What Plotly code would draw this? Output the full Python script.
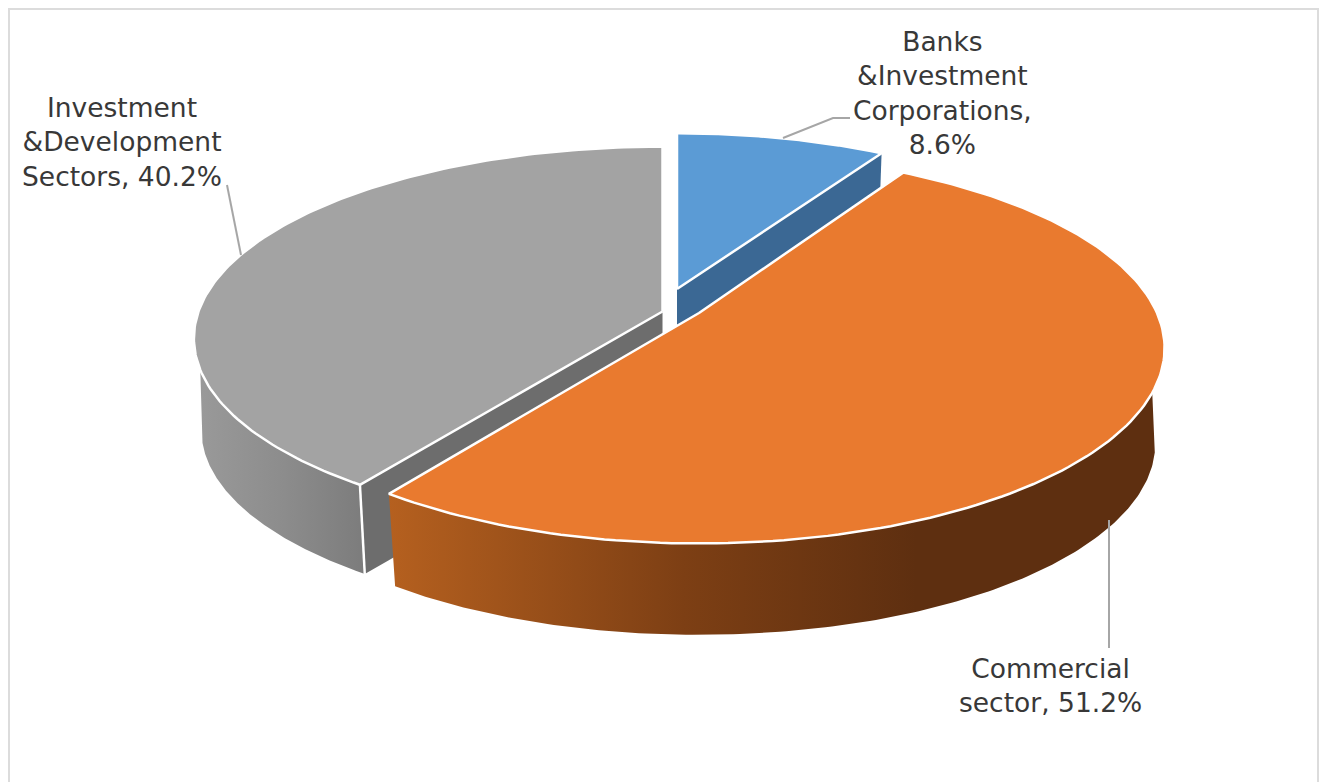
import numpy as np
import plotly.graph_objects as go

# Sector shares, clockwise from twelve o'clock
sectors = ["Banks &Investment Corporations", "Commercial sector", "Investment &Development Sectors"]
shares = [8.6, 51.2, 40.2]
label_lines = [
    "Banks<br>&Investment<br>Corporations,<br>{}%",
    "Commercial<br>sector, {}%",
    "Investment<br>&Development<br>Sectors, {}%",
]

top_colors = ["#5b9bd5", "#e97a2f", "#a3a3a3"]

# Projection of each exploded slice: apex, half-axes, perspective, rim drop and rim shrink
slice_geometry = [
    dict(cx=677, cy=289, a=442, b=176, k=0.13, drop=90, shrink=0.984),
    dict(cx=699, cy=313, a=458, b=189, k=0.18, drop=96, shrink=0.98),
    dict(cx=662.5, cy=311.5, a=464, b=188, k=0.14, drop=92, shrink=0.984),
]

edges = 360 * np.cumsum([0] + shares) / sum(shares)


def rim(g, deg, lower=False):
    """Screen position of the slice rim at a clockwise angle, on the top or bottom face."""
    t = np.radians(deg)
    w = 1 + g["k"] * np.cos(t)
    s = g["shrink"] if lower else 1.0
    cy = g["cy"] + (g["drop"] if lower else 0)
    return g["cx"] + s * g["a"] * np.sin(t) / w, cy - s * g["b"] * np.cos(t) / w


def arc(g, d0, d1, lower=False, n=160):
    return rim(g, np.linspace(d0, d1, n), lower)


def top_face(i):
    g = slice_geometry[i]
    x, y = arc(g, edges[i], edges[i + 1])
    return np.r_[g["cx"], x, g["cx"]], np.r_[g["cy"], y, g["cy"]]


def outer_wall(g, top_span, low_span):
    """Curved wall between the two rims; the spans differ so the silhouette edge stays tangent."""
    xt, yt = arc(g, *top_span)
    xb, yb = arc(g, low_span[1], low_span[0], lower=True)
    return np.r_[xt, xb, xt[0]], np.r_[yt, yb, yt[0]]


def radial_wall(g, deg):
    xr, yr = rim(g, deg)
    xl, yl = rim(g, deg, lower=True)
    return [g["cx"], xr, xl, g["cx"], g["cx"]], [g["cy"], yr, yl, g["cy"] + g["drop"], g["cy"]]


fig = go.Figure()


def add_poly(x, y, color=None, gradient=None, edge=None, width=0):
    trace = dict(x=x, y=y, mode="lines", fill="toself", hoverinfo="skip", showlegend=False,
                 line=dict(color=edge or "rgba(0,0,0,0)", width=width))
    if gradient:
        trace["fillgradient"] = dict(type="horizontal", colorscale=gradient)
    else:
        trace["fillcolor"] = color
    fig.add_trace(go.Scatter(**trace))


def add_line(x, y, color="white", width=2.5):
    fig.add_trace(go.Scatter(x=x, y=y, mode="lines", hoverinfo="skip", showlegend=False,
                             line=dict(color=color, width=width)))


blue, orange, gray = slice_geometry

# Blue slice: only its cut face shows, the orange slice sits in front of it
add_poly(*radial_wall(blue, edges[1]), color="#3b6894")
add_poly(*top_face(0), color=top_colors[0], edge="white", width=2.5)

# Grey slice: curved wall, cut face, white corner, then the top
add_poly(*outer_wall(gray, (edges[2], 270), (edges[2], 258)),
         gradient=[[0, "#9a9a9a"], [0.5, "#8d8d8d"], [1, "#7c7c7c"]])
add_poly(*radial_wall(gray, edges[2]), color="#6d6d6d")
cx0, cy0 = rim(gray, edges[2])
cx1, cy1 = rim(gray, edges[2], lower=True)
add_line([cx0, cx1], [cy0, cy1])
add_poly(*top_face(2), color=top_colors[2], edge="white", width=2.5)

# Orange slice sits closest to the viewer; its wall darkens towards the right
add_poly(*outer_wall(orange, (85, edges[2]), (103, edges[2])),
         gradient=[[0, "#b5601f"], [0.38, "#7d3f14"], [0.68, "#5e2f10"], [1, "#5e2f10"]])
add_poly(*top_face(1), color=top_colors[1], edge="white", width=2.5)

# Leader lines from the labels to the slices
leader_color = "#a6a6a6"
add_line([783, 833, 850], [138, 118, 118], leader_color, 2)
add_line([227, 241], [185, 255], leader_color, 2)
add_line([1109, 1109], [520, 648], leader_color, 2)

label_spots = [(942, 92.5), (1050, 685), (122, 142)]
annotations = [
    dict(x=x, y=y, xref="x", yref="y", xanchor="center", yanchor="middle", showarrow=False,
         align="center", text=tmpl.format(v),
         font=dict(family="DejaVu Sans", size=26.5, color="#383838"))
    for (x, y), tmpl, v in zip(label_spots, label_lines, shares)
]

fig.update_layout(
    width=1320, height=782, margin=dict(l=0, r=0, t=0, b=0), autosize=False,
    paper_bgcolor="white", plot_bgcolor="white", showlegend=False,
    xaxis=dict(range=[0, 1320], visible=False, fixedrange=True),
    yaxis=dict(range=[782, 0], visible=False, fixedrange=True),
    annotations=annotations,
    # Chart frame: its lower edge falls outside the page
    shapes=[dict(type="rect", xref="x", yref="y", x0=9, y0=9, x1=1318, y1=800,
                 line=dict(color="#dcdcdc", width=2), layer="below")],
)

fig.write_html("out.html", config=dict(displayModeBar=False))
